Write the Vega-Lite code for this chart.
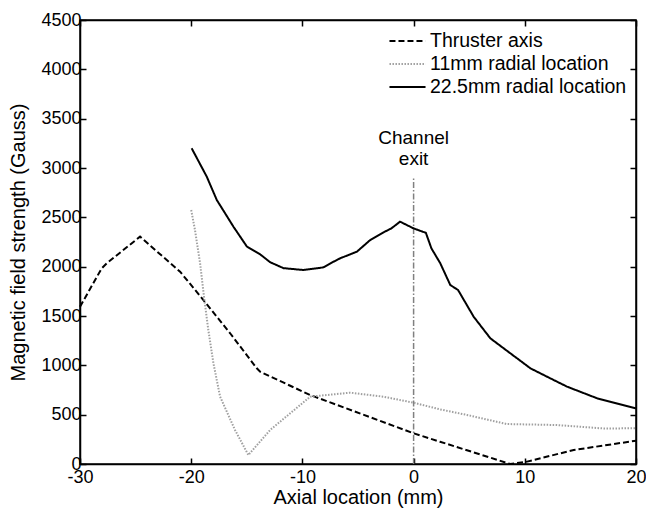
{
  "$schema": "https://vega.github.io/schema/vega-lite/v6.json",
  "width": 556,
  "height": 444,
  "autosize": "none",
  "padding": {"left": 80, "top": 20, "right": 10, "bottom": 47},
  "background": "white",
  "config": {
    "font": "Liberation Sans",
    "view": {"stroke": "black", "strokeWidth": 1.5},
    "axis": {"grid": false, "domainColor": "black", "domainWidth": 1.5, "tickColor": "black", "tickWidth": 1.5, "labelColor": "black", "titleColor": "black", "labelFontSize": 18, "titleFontSize": 20, "titleFontWeight": "normal", "labelFont": "Liberation Sans", "titleFont": "Liberation Sans", "labelExpr": "'' + datum.value", "labelFlush": false, "labelOverlap": false}
  },
  "datasets": {
    "curves": [
      {"series": "Thruster axis", "x": -30, "y": 1594},
      {"series": "Thruster axis", "x": -28.05, "y": 1983},
      {"series": "Thruster axis", "x": -27.6, "y": 2034},
      {"series": "Thruster axis", "x": -24.6, "y": 2304},
      {"series": "Thruster axis", "x": -21.0, "y": 1949},
      {"series": "Thruster axis", "x": -18.9, "y": 1662},
      {"series": "Thruster axis", "x": -16.5, "y": 1325},
      {"series": "Thruster axis", "x": -14.1, "y": 970},
      {"series": "Thruster axis", "x": -13.8, "y": 935},
      {"series": "Thruster axis", "x": -9.3, "y": 699},
      {"series": "Thruster axis", "x": 0, "y": 311},
      {"series": "Thruster axis", "x": 2.37, "y": 226},
      {"series": "Thruster axis", "x": 8.7, "y": 0},
      {"series": "Thruster axis", "x": 10.2, "y": 24},
      {"series": "Thruster axis", "x": 14.4, "y": 142},
      {"series": "Thruster axis", "x": 20, "y": 236},
      {"series": "11mm radial location", "x": -20, "y": 2574},
      {"series": "11mm radial location", "x": -19.66, "y": 2372},
      {"series": "11mm radial location", "x": -19.2, "y": 2034},
      {"series": "11mm radial location", "x": -18.85, "y": 1696},
      {"series": "11mm radial location", "x": -18.46, "y": 1358},
      {"series": "11mm radial location", "x": -18.0, "y": 1020},
      {"series": "11mm radial location", "x": -17.4, "y": 682},
      {"series": "11mm radial location", "x": -16.06, "y": 345},
      {"series": "11mm radial location", "x": -14.86, "y": 91},
      {"series": "11mm radial location", "x": -12.9, "y": 345},
      {"series": "11mm radial location", "x": -9.3, "y": 682},
      {"series": "11mm radial location", "x": -5.7, "y": 723},
      {"series": "11mm radial location", "x": -2.7, "y": 682},
      {"series": "11mm radial location", "x": 0, "y": 621},
      {"series": "11mm radial location", "x": 2.37, "y": 554},
      {"series": "11mm radial location", "x": 4.8, "y": 497},
      {"series": "11mm radial location", "x": 8.37, "y": 405},
      {"series": "11mm radial location", "x": 12.87, "y": 395},
      {"series": "11mm radial location", "x": 17.1, "y": 360},
      {"series": "11mm radial location", "x": 20, "y": 362},
      {"series": "22.5mm radial location", "x": -19.96, "y": 3200},
      {"series": "22.5mm radial location", "x": -18.6, "y": 2912},
      {"series": "22.5mm radial location", "x": -17.7, "y": 2676},
      {"series": "22.5mm radial location", "x": -16.2, "y": 2405},
      {"series": "22.5mm radial location", "x": -15.0, "y": 2205},
      {"series": "22.5mm radial location", "x": -13.8, "y": 2125},
      {"series": "22.5mm radial location", "x": -12.9, "y": 2045},
      {"series": "22.5mm radial location", "x": -11.7, "y": 1985},
      {"series": "22.5mm radial location", "x": -9.9, "y": 1966},
      {"series": "22.5mm radial location", "x": -8.1, "y": 1993},
      {"series": "22.5mm radial location", "x": -7.2, "y": 2050},
      {"series": "22.5mm radial location", "x": -6.6, "y": 2085},
      {"series": "22.5mm radial location", "x": -5.1, "y": 2152},
      {"series": "22.5mm radial location", "x": -3.9, "y": 2270},
      {"series": "22.5mm radial location", "x": -2.7, "y": 2348},
      {"series": "22.5mm radial location", "x": -2.0, "y": 2388},
      {"series": "22.5mm radial location", "x": -1.22, "y": 2456},
      {"series": "22.5mm radial location", "x": 0, "y": 2388},
      {"series": "22.5mm radial location", "x": 0.82, "y": 2354},
      {"series": "22.5mm radial location", "x": 1.1, "y": 2344},
      {"series": "22.5mm radial location", "x": 1.6, "y": 2186},
      {"series": "22.5mm radial location", "x": 2.4, "y": 2034},
      {"series": "22.5mm radial location", "x": 3.3, "y": 1814},
      {"series": "22.5mm radial location", "x": 4.0, "y": 1763},
      {"series": "22.5mm radial location", "x": 5.4, "y": 1493},
      {"series": "22.5mm radial location", "x": 6.9, "y": 1274},
      {"series": "22.5mm radial location", "x": 8.7, "y": 1122},
      {"series": "22.5mm radial location", "x": 10.5, "y": 970},
      {"series": "22.5mm radial location", "x": 12.6, "y": 851},
      {"series": "22.5mm radial location", "x": 13.8, "y": 784},
      {"series": "22.5mm radial location", "x": 16.5, "y": 666},
      {"series": "22.5mm radial location", "x": 20, "y": 564}
    ],
    "exit": [{"x": 0, "y0": 0, "y1": 2900}],
    "exitText": [
      {"x": 0, "y": 3300, "t": "Channel"},
      {"x": 0, "y": 3090, "t": "exit"}
    ]
  },
  "layer": [
    {
      "data": {"name": "exit"},
      "mark": {"type": "rule", "color": "#808080", "strokeWidth": 1.5, "strokeDash": [6, 2, 1.5, 2]},
      "encoding": {
        "x": {"field": "x", "type": "quantitative", "scale": {"domain": [-30, 20], "nice": false}, "axis": {"orient": "top", "labels": false, "title": null, "tickSize": -6, "values": [-30, -20, -10, 0, 10, 20]}},
        "y": {"field": "y0", "type": "quantitative", "scale": {"domain": [0, 4500], "nice": false}, "axis": {"orient": "right", "labels": false, "title": null, "tickSize": -6, "values": [0, 500, 1000, 1500, 2000, 2500, 3000, 3500, 4000, 4500]}},
        "y2": {"field": "y1"}
      }
    },
    {
      "data": {"name": "curves"},
      "mark": {"type": "line", "strokeWidth": 2},
      "encoding": {
        "x": {"field": "x", "type": "quantitative", "scale": {"domain": [-30, 20], "nice": false}, "axis": {"orient": "bottom", "title": "Axial location (mm)", "tickSize": -6, "labelPadding": 10, "titlePadding": 1, "values": [-30, -20, -10, 0, 10, 20]}},
        "y": {"field": "y", "type": "quantitative", "scale": {"domain": [0, 4500], "nice": false}, "axis": {"orient": "left", "title": "Magnetic field strength (Gauss)", "tickSize": -6, "labelPadding": 5, "titlePadding": 12, "values": [0, 500, 1000, 1500, 2000, 2500, 3000, 3500, 4000, 4500]}},
        "order": {"field": "x", "type": "quantitative"},
        "color": {"field": "series", "type": "nominal", "scale": {"domain": ["Thruster axis", "11mm radial location", "22.5mm radial location"], "range": ["black", "#a0a0a0", "black"]}, "legend": {"title": null, "orient": "none", "legendX": 308, "legendY": 11, "symbolType": "stroke", "symbolSize": 1300, "symbolStrokeWidth": 2, "labelFontSize": 19.5, "labelColor": "black", "rowPadding": 3, "clipHeight": 20, "labelOffset": 3, "labelLimit": 400, "labelFont": "Liberation Sans"}},
        "strokeDash": {"field": "series", "type": "nominal", "scale": {"domain": ["Thruster axis", "11mm radial location", "22.5mm radial location"], "range": [[6, 3], [1.5, 1.5], [1, 0]]}, "legend": {"title": null, "orient": "none", "legendX": 308, "legendY": 11, "symbolType": "stroke", "symbolSize": 1300, "symbolStrokeWidth": 2, "labelFontSize": 19.5, "labelColor": "black", "rowPadding": 3, "clipHeight": 20, "labelOffset": 3, "labelLimit": 400, "labelFont": "Liberation Sans"}}
      }
    },
    {
      "data": {"name": "exitText"},
      "mark": {"type": "text", "fontSize": 19, "color": "black", "baseline": "middle", "align": "center"},
      "encoding": {
        "x": {"field": "x", "type": "quantitative", "axis": null},
        "y": {"field": "y", "type": "quantitative", "axis": null},
        "text": {"field": "t"}
      }
    }
  ],
  "resolve": {"axis": {"x": "independent", "y": "independent"}}
}
